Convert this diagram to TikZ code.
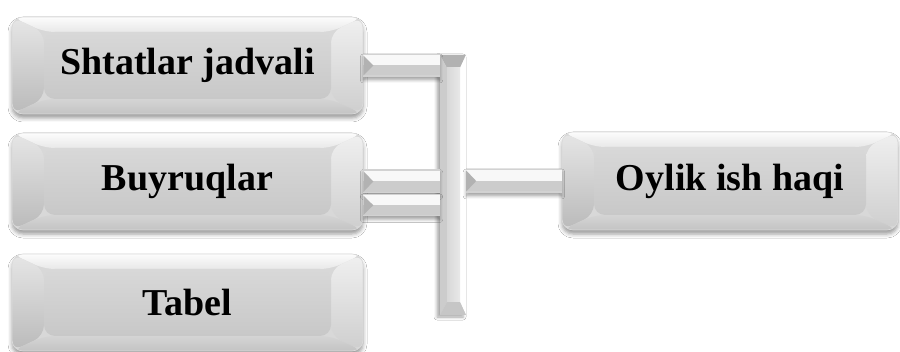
\documentclass[tikz,border=0pt]{standalone}
\usepackage{fontspec}
\setmainfont{Liberation Serif}
\usetikzlibrary{calc,shadows.blur}

% bevel palette
\definecolor{bvTopA}{RGB}{252,252,252}
\definecolor{bvTopB}{RGB}{232,232,232}
\definecolor{bvLeftA}{RGB}{230,230,230}
\definecolor{bvLeftB}{RGB}{186,186,186}
\definecolor{bvRightA}{RGB}{240,240,240}
\definecolor{bvRightB}{RGB}{206,206,206}
\definecolor{bvBotA}{RGB}{212,212,212}
\definecolor{bvBotB}{RGB}{196,196,196}
\definecolor{bvFaceA}{RGB}{216,216,216}
\definecolor{bvFaceB}{RGB}{200,200,200}
\definecolor{edgeC}{RGB}{218,218,218}
\definecolor{barHi}{RGB}{248,248,248}
\definecolor{barLo}{RGB}{204,204,204}
\definecolor{barTip}{RGB}{178,178,178}

% four bevel facets and the flat face of a raised panel
\newcommand\bevelfaces[2]{%
  \path (path picture bounding box.north west) coordinate (qa)
        (path picture bounding box.north east) coordinate (qb)
        (path picture bounding box.south east) coordinate (qc)
        (path picture bounding box.south west) coordinate (qd);
  \path ($(qa)+(#1,-#2)$) coordinate (ia) ($(qb)+(-#1,-#2)$) coordinate (ib)
        ($(qc)+(-#1,#2)$) coordinate (ic) ($(qd)+(#1,#2)$) coordinate (id);
  \shade[top color=bvTopA, bottom color=bvTopB] (qa) -- (qb) -- (ib) -- (ia) -- cycle;
  \shade[top color=bvLeftA, bottom color=bvLeftB] (qa) -- (ia) -- (id) -- (qd) -- cycle;
  \shade[top color=bvRightA, bottom color=bvRightB] (qb) -- (qc) -- (ic) -- (ib) -- cycle;
  \shade[top color=bvBotA, bottom color=bvBotB] (qd) -- (id) -- (ic) -- (qc) -- cycle;
  \shade[top color=bvFaceA, bottom color=bvFaceB] (ia) rectangle (ic);
}

% facets of the vertical collecting bar
\newcommand\hubfaces{%
  \path (path picture bounding box.north west) coordinate (ha)
        (path picture bounding box.north east) coordinate (hb)
        (path picture bounding box.south east) coordinate (hc)
        (path picture bounding box.south west) coordinate (hd);
  \path ($(ha)+(7pt,-13pt)$) coordinate (ja) ($(hb)+(-6pt,-13pt)$) coordinate (jb)
        ($(hc)+(-6pt,13pt)$) coordinate (jc) ($(hd)+(7pt,13pt)$) coordinate (jd);
  \fill[gray!60] (ha) -- (hb) -- (jb) -- (ja) -- cycle;
  \fill[gray!40] (ha) -- (ja) -- (jd) -- (hd) -- cycle;
  \fill[white] (hb) -- (hc) -- (jc) -- (jb) -- cycle;
  \fill[gray!45] (hd) -- (jd) -- (jc) -- (hc) -- cycle;
  \shade[left color=bvFaceA, right color=bvTopB] (ja) rectangle (jc);
}

% horizontal connector strip between two corners (top left, bottom right)
\newcommand\bevelbar[2]{%
  \path #1 coordinate (ka) #2 coordinate (kb);
  \fill[gray!35, blur shadow={shadow xshift=0pt, shadow yshift=-3pt,
        shadow blur radius=3pt, shadow opacity=35}] (ka) rectangle (kb);
  \fill[barHi] ($(ka)+(0,-1.5pt)$) rectangle ($(ka-|kb)!0.5!(kb)$);
  \fill[barLo] ($(ka)!0.5!(ka|-kb)$) rectangle ($(kb)+(0,1.5pt)$);
  \fill[barTip] ($(ka)+(0,-1.5pt)$) -- ($(ka)!0.5!(ka|-kb)+(10pt,0)$)
        -- ($(ka|-kb)+(0,1.5pt)$) -- cycle;
}

\tikzset{
  boxtext/.style={font=\fontsize{38}{44}\selectfont\bfseries, text=black},
  bevelbox/.style={rectangle, rounded corners=11pt, inner sep=0pt,
    minimum width=351pt, minimum height=97pt, boxtext, fill=bvFaceA,
    draw=edgeC, line width=0.6pt,
    blur shadow={shadow xshift=0pt, shadow yshift=-4pt,
      shadow blur radius=4pt, shadow opacity=40},
    path picture={\bevelfaces{32pt}{15pt}}},
  hubbar/.style={rectangle, inner sep=0pt, minimum width=26pt,
    minimum height=260pt, fill=bvFaceA,
    blur shadow={shadow xshift=-3pt, shadow yshift=-2pt,
      shadow blur radius=3pt, shadow opacity=35},
    path picture={\hubfaces}},
}

\begin{document}
\begin{tikzpicture}[x=1pt, y=-1pt]
  \useasboundingbox (0,0) rectangle (900,352);
  \fill[white] (0,0) rectangle (900,352);

  % source panels
  \node[bevelbox] (s1) at (187.5,65.5) {Shtatlar jadvali};
  \node[bevelbox] (s2) at (187.5,181.5) {Buyruqlar};
  \node[bevelbox] (s3) at (187.5,302.5) {Tabel};

  % result panel
  \node[bevelbox, minimum width=336pt, minimum height=98pt] (out) at (730,181) {Oylik ish haqi};

  % collecting bar
  \node[hubbar] (hub) at (453,185) {};

  % connector strips
  \bevelbar{($(s1.east)+(0,11.5pt)$)}{($(hub.west|-s1.east)+(0,-11.5pt)$)}
  \bevelbar{($(s2.east)+(0,12pt)$)}{($(hub.west|-s2.east)+(0,-12pt)$)}
  \bevelbar{($(s2.east)+(0,-12.5pt)$)}{($(hub.west|-s2.east)+(0,-35pt)$)}
  \bevelbar{($(hub.east|-out.west)+(0,12pt)$)}{($(out.west)+(0,-12pt)$)}
\end{tikzpicture}
\end{document}
